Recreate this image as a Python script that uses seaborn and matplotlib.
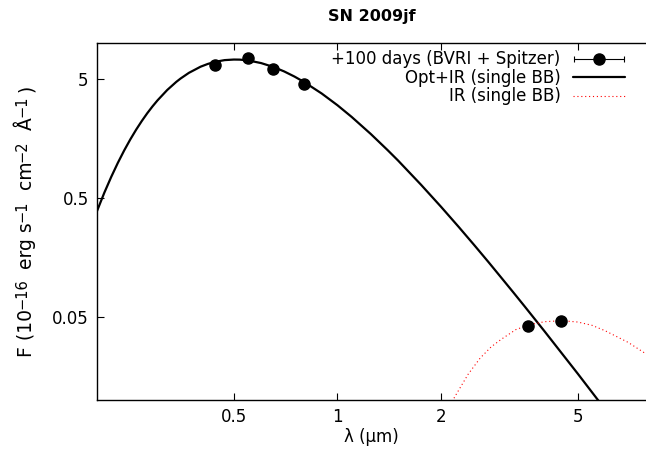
import matplotlib
matplotlib.use("Agg")
import matplotlib.pyplot as plt
from matplotlib.ticker import NullLocator
from matplotlib.container import ErrorbarContainer
from matplotlib.legend_handler import HandlerErrorbar
import seaborn as sns

# photometry at +100 days (BVRI + Spitzer), wavelength in micron, flux in 1e-16 erg/s/cm2/A
obs_wave = [0.44, 0.55, 0.65, 0.80, 3.58, 4.47]
obs_flux = [6.56, 7.50, 6.07, 4.54, 0.042, 0.0463]

# Opt+IR single blackbody
bb_wave = [0.20, 0.21, 0.22, 0.23, 0.24, 0.25, 0.26, 0.27, 0.28, 0.29, 0.30, 0.32,
           0.34, 0.35, 0.37, 0.40, 0.42, 0.44, 0.47, 0.50, 0.52, 0.55, 0.60, 0.65,
           0.70, 0.75, 0.80, 0.90, 1.00, 1.10, 1.25, 1.40, 1.50, 1.75, 2.00, 2.25,
           2.50, 2.75, 3.00, 3.25, 3.50, 3.75, 4.00, 4.50, 5.00, 5.50, 6.00]
bb_flux = [0.387, 0.551, 0.750, 0.985, 1.253, 1.55, 1.872, 2.213, 2.57, 2.933, 3.30, 4.027,
           4.712, 5.03, 5.613, 6.32, 6.670, 6.94, 7.181, 7.26, 7.249, 7.14, 6.78, 6.303,
           5.77, 5.225, 4.70, 3.764, 3.00, 2.392, 1.72, 1.2565, 1.03, 0.644, 0.421, 0.2856,
           0.200, 0.144, 0.106, 0.0799, 0.0613, 0.04775, 0.0378, 0.02448, 0.0166, 0.01159, 0.00835]

# IR single blackbody
ir_wave = [2.10, 2.20, 2.40, 2.60, 2.80, 3.00, 3.30, 3.60, 4.00, 4.50, 5.00, 5.50,
           6.00, 7.00, 8.00]
ir_flux = [0.0085, 0.0108, 0.0165, 0.0225, 0.0280, 0.0325, 0.0390, 0.0428, 0.0455,
           0.0464, 0.0452, 0.0424, 0.0382, 0.0305, 0.0238]

# y label pieces: (text, is superscript)
ylabel_parts = [("F (10", False), ("−16", True), (" erg s", False), ("−1", True),
                (" cm", False), ("−2", True), (" Å", False), ("−1", True), (")", False)]

sns.set_theme(style="ticks")
plt.rcParams["font.family"] = ["DejaVu Sans"]
plt.rcParams["text.color"] = "black"
plt.rcParams["axes.labelcolor"] = "black"
fs = 12

W, H = 646, 459
fig = plt.figure(figsize=(W / 100, H / 100), dpi=100)
ax = fig.add_axes([97 / W, 59 / H, 549 / W, 357 / H])

sns.lineplot(x=bb_wave, y=bb_flux, ax=ax, color="black", lw=1.6)
sns.lineplot(x=ir_wave, y=ir_flux, ax=ax, color="red", lw=0.8, linestyle=(0, (1, 2.5)))
eb = ax.errorbar(obs_wave, obs_flux, xerr=[0] * len(obs_wave), fmt="o", color="black",
                 ms=8, capsize=2, elinewidth=0.8, capthick=0.8)

ax.set_xscale("log")
ax.set_yscale("log")
ax.set_xlim(0.2, 7.89)
ax.set_ylim(0.01, 10)
ax.set_xticks([0.5, 1, 2, 5], ["0.5", "1", "2", "5"])
ax.set_yticks([0.05, 0.5, 5], ["0.05", "0.5", "5"])
ax.xaxis.set_minor_locator(NullLocator())
ax.yaxis.set_minor_locator(NullLocator())
ax.tick_params(direction="in", length=5, width=0.8, top=True, labelsize=fs, pad=6, colors="black")
ax.spines["right"].set_visible(False)
for s in ["left", "bottom", "top"]:
    ax.spines[s].set_linewidth(1.0)
    ax.spines[s].set_color("black")

ax.set_xlabel("λ (µm)", fontsize=fs, labelpad=1)
ax.set_ylabel("")
ax.set_title("SN 2009jf", fontsize=11.5, fontweight="bold", pad=16)

# y label built from rotated pieces so the superscripts stay large, like gnuplot
base_fs, sup_fs, sup_gap = 13.5, 10.5, 4
renderer = fig.canvas.get_renderer()
widths = []
for txt, sup in ylabel_parts:
    t = fig.text(0, 0, txt, fontsize=sup_fs if sup else base_fs)
    widths.append(t.get_window_extent(renderer).width + (sup_gap if sup else 0))
    t.remove()
total = sum(widths)
x_base = 32
y_pos = 221 + total / 2  # pixel row from top where the label starts
for (txt, sup), w in zip(ylabel_parts, widths):
    xb = x_base - (6 if sup else 0)
    fig.text(xb / W, (H - y_pos) / H, txt, fontsize=sup_fs if sup else base_fs,
             rotation=90, rotation_mode="anchor", ha="left", va="baseline")
    y_pos -= w

handles = [eb, ax.lines[0], ax.lines[1]]
labels = ["+100 days (BVRI + Spitzer)", "Opt+IR (single BB)", "IR (single BB)"]
ax.legend(handles, labels, loc="upper right", bbox_to_anchor=(0.962, 0.979),
          markerfirst=False, frameon=False, fontsize=fs, handlelength=3.1,
          handletextpad=0.78, labelspacing=0.03, borderpad=0, borderaxespad=0,
          handler_map={ErrorbarContainer: HandlerErrorbar(xerr_size=1.5)})

fig.savefig("out.png", dpi=100)
